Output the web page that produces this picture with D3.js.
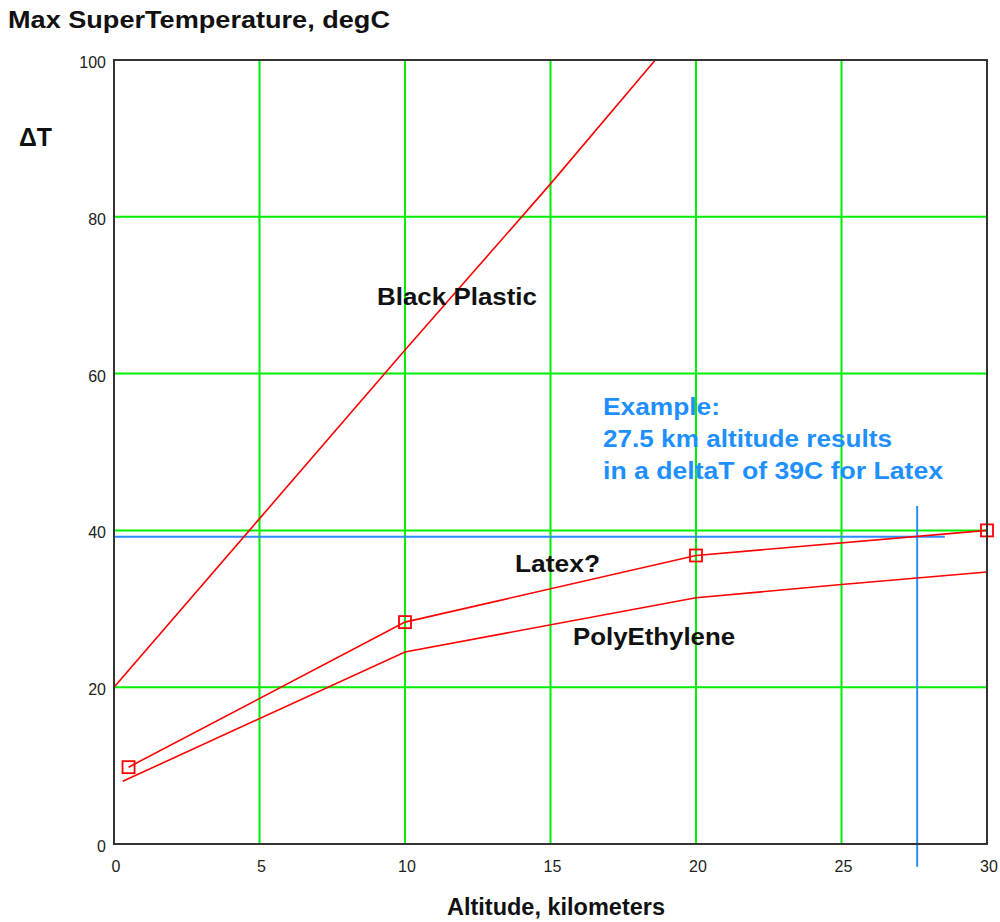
<!DOCTYPE html>
<html>
<head>
<meta charset="utf-8">
<script src="https://cdn.jsdelivr.net/npm/d3@7"></script>
<style>
  body { margin: 0; background: #fff; }
  svg text { font-family: "Liberation Sans", Arial, sans-serif; }
</style>
</head>
<body>
<svg id="chart" width="1000" height="922"></svg>
<script>
// chart values
const xTicks = [0, 5, 10, 15, 20, 25, 30];
const yTicks = [0, 20, 40, 60, 80, 100];

const blackAlt = [0, 5, 10, 15, 18.6];
const blackDT = [20, 41.5, 63, 84.2, 100];

const latexAlt = [0.5, 10, 20, 30];
const latexDT = [9.8, 28.3, 36.8, 40.0];

const polyAlt = [0.3, 10, 20, 25, 30];
const polyDT = [8.0, 24.5, 31.4, 33.1, 34.7];

const exampleAlt = 27.6;
const exampleDT = 39.2;

const svg = d3.select('#chart');
const margin = { top: 60, left: 114, right: 13, bottom: 78 };
const width = 1000 - margin.left - margin.right;
const height = 922 - margin.top - margin.bottom;

const x = d3.scaleLinear().domain([0, 30]).range([0, width]);
const y = d3.scaleLinear().domain([0, 100]).range([height, 0]);

svg.append('defs').append('clipPath').attr('id', 'plotClip')
  .append('rect').attr('width', width).attr('height', height);

const g = svg.append('g')
  .attr('transform', 'translate(' + margin.left + ',' + margin.top + ')');

// green grid
g.append('g').selectAll('line')
  .data(xTicks.filter(d => d > 0 && d < 30))
  .enter().append('line')
  .attr('x1', d => x(d)).attr('x2', d => x(d))
  .attr('y1', 0).attr('y2', height)
  .attr('stroke', '#00ee00').attr('stroke-width', 2);

g.append('g').selectAll('line')
  .data(yTicks.filter(d => d > 0 && d < 100))
  .enter().append('line')
  .attr('y1', d => y(d)).attr('y2', d => y(d))
  .attr('x1', 0).attr('x2', width)
  .attr('stroke', '#00ee00').attr('stroke-width', 2);

// blue example lines
g.append('line')
  .attr('x1', x(0)).attr('x2', x(28.55))
  .attr('y1', y(exampleDT)).attr('y2', y(exampleDT))
  .attr('stroke', '#2b8cff').attr('stroke-width', 2);
g.append('line')
  .attr('x1', x(exampleAlt)).attr('x2', x(exampleAlt))
  .attr('y1', y(43.1)).attr('y2', y(-2.9))
  .attr('stroke', '#2b8cff').attr('stroke-width', 2);

// curves
const line = d3.line().x(d => x(d[0])).y(d => y(d[1]));
const curves = [
  d3.zip(blackAlt, blackDT),
  d3.zip(latexAlt, latexDT),
  d3.zip(polyAlt, polyDT)
];
g.append('g').attr('clip-path', 'url(#plotClip)')
  .selectAll('path')
  .data(curves)
  .enter().append('path')
  .attr('d', line)
  .attr('fill', 'none')
  .attr('stroke', '#ff0000')
  .attr('stroke-width', 1.6);

// latex markers
g.selectAll('rect.mark')
  .data(d3.zip(latexAlt, latexDT))
  .enter().append('rect')
  .attr('class', 'mark')
  .attr('x', d => x(d[0]) - 6).attr('y', d => y(d[1]) - 6)
  .attr('width', 12).attr('height', 12)
  .attr('fill', 'none').attr('stroke', '#ff0000').attr('stroke-width', 1.8);

// frame
g.append('rect')
  .attr('width', width).attr('height', height)
  .attr('fill', 'none').attr('stroke', '#333').attr('stroke-width', 2);

// tick labels
g.selectAll('text.yt')
  .data(yTicks)
  .enter().append('text')
  .attr('class', 'yt')
  .attr('x', -8).attr('y', d => y(d) + 8)
  .attr('text-anchor', 'end')
  .attr('font-size', 16).attr('fill', '#222')
  .text(d => d);

g.selectAll('text.xt')
  .data(xTicks)
  .enter().append('text')
  .attr('class', 'xt')
  .attr('x', d => x(d) + 2).attr('y', height + 28)
  .attr('text-anchor', 'middle')
  .attr('font-size', 16).attr('fill', '#222')
  .text(d => d);

// titles and labels
const label = (txt, px, py, size, len, color) =>
  svg.append('text')
    .attr('x', px).attr('y', py)
    .attr('font-size', size).attr('font-weight', 'bold')
    .attr('fill', color || '#111')
    .attr('textLength', len).attr('lengthAdjust', 'spacingAndGlyphs')
    .text(txt);

label('Max SuperTemperature, degC', 8, 28, 23, 382);
label('\u0394T', 19, 146, 25, 33);
label('Altitude, kilometers', 447, 915, 23, 218);
label('Black Plastic', 377, 305, 23, 160);
label('Latex?', 515, 572, 23, 85);
label('PolyEthylene', 573, 645, 23, 162);
label('Example:', 603, 415, 23, 117, '#1e8fff');
label('27.5 km altitude results', 603, 447, 23, 289, '#1e8fff');
label('in a deltaT of 39C for Latex', 603, 479, 23, 340, '#1e8fff');
</script>
</body>
</html>
